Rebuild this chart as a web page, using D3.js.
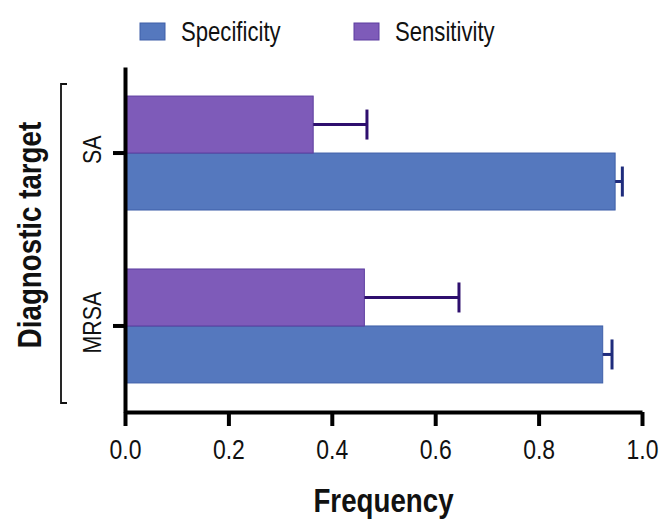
<!DOCTYPE html>
<html>
<head>
<meta charset="utf-8">
<script src="https://cdn.jsdelivr.net/npm/d3@7"></script>
<style>
  body { margin: 0; background: #fff; }
  text { font-family: "Liberation Sans", Arial, sans-serif; fill: #111; }
</style>
</head>
<body>
<div id="chart"></div>
<script>
// Data
const targets = ["SA", "MRSA"];
const seriesNames = ["Specificity", "Sensitivity"];
const specificity = [0.948, 0.924];
const specificityErr = [0.014, 0.018];
const sensitivity = [0.364, 0.463];
const sensitivityErr = [0.104, 0.183];
const xTicks = [0, 0.2, 0.4, 0.6, 0.8, 1.0];

let width = 660, height = 524;

let margin = {
    top: 67,
    bottom: 112,
    left: 125,
    right: 18
}

// the original uses a condensed face, so squeeze the text horizontally
const squeeze = 0.82;

const colors = {
    Specificity: { fill: "#5578be", stroke: "#3e5fa8", err: "#1f2c7c" },
    Sensitivity: { fill: "#7e5bb9", stroke: "#5c3d9f", err: "#2e0f6e" }
};

let svg = d3.select('#chart')
    .append('svg')
    .attr('width', width)
    .attr('height', height)

// Scales
const xScale = d3.scaleLinear()
    .domain([0, 1])
    .range([margin.left, width - margin.right]);

const yScale = d3.scaleBand()
    .domain(targets)
    .range([margin.top, height - margin.bottom])
    .paddingInner(0.341)
    .paddingOuter(0.168);

// purple (Sensitivity) sits on top within each group
const y1 = d3.scaleBand()
    .domain(["Sensitivity", "Specificity"])
    .range([0, yScale.bandwidth()]);

// Build rows from the arrays
const rows = [];
targets.forEach((t, i) => {
    rows.push({ target: t, series: "Specificity", value: specificity[i], err: specificityErr[i] });
    rows.push({ target: t, series: "Sensitivity", value: sensitivity[i], err: sensitivityErr[i] });
});

// Bars
svg.selectAll('.bar')
    .data(rows)
    .enter()
    .append('rect')
    .attr('class', 'bar')
    .attr('x', xScale(0))
    .attr('y', d => yScale(d.target) + y1(d.series))
    .attr('width', d => xScale(d.value) - xScale(0))
    .attr('height', y1.bandwidth())
    .attr('fill', d => colors[d.series].fill)
    .attr('stroke', d => colors[d.series].stroke)
    .attr('stroke-width', 1);

// Error bars (upper side only)
rows.forEach(d => {
    const cy = yScale(d.target) + y1(d.series) + y1.bandwidth() / 2;
    const x0 = xScale(d.value);
    const x1 = xScale(d.value + d.err);
    svg.append('line')
        .attr('x1', x0).attr('x2', x1)
        .attr('y1', cy).attr('y2', cy)
        .attr('stroke', colors[d.series].err)
        .attr('stroke-width', 3);
    svg.append('line')
        .attr('x1', x1).attr('x2', x1)
        .attr('y1', cy - 15).attr('y2', cy + 15)
        .attr('stroke', colors[d.series].err)
        .attr('stroke-width', 3);
});

// X axis
let xaxis = svg.append('g')
    .attr('transform', `translate(0,${height - margin.bottom})`)
    .call(d3.axisBottom(xScale).tickValues(xTicks).tickFormat(d3.format('.1f')).tickSize(14).tickSizeOuter(0));
xaxis.select('.domain').attr('stroke', '#000').attr('stroke-width', 4);
xaxis.selectAll('.tick line').attr('stroke', '#000').attr('stroke-width', 4);
xaxis.selectAll('.tick text')
    .attr('y', 27)
    .attr('transform', `scale(${squeeze},1)`)
    .style('font-size', '28px')
    .style('font-family', '"Liberation Sans", Arial, sans-serif')
    .attr('fill', '#111');

// Y axis
let yaxis = svg.append('g')
    .attr('transform', `translate(${margin.left},0)`)
    .call(d3.axisLeft(yScale).tickSize(12).tickSizeOuter(0));
yaxis.select('.domain').attr('stroke', '#000').attr('stroke-width', 4);
yaxis.selectAll('.tick line').attr('stroke', '#000').attr('stroke-width', 4);
yaxis.selectAll('.tick text')
    .attr('transform', `rotate(-90) scale(${squeeze},1)`)
    .attr('x', 4)
    .attr('y', -24)
    .attr('dy', 0)
    .attr('text-anchor', 'middle')
    .style('font-size', '26px')
    .style('font-family', '"Liberation Sans", Arial, sans-serif')
    .attr('fill', '#111');

// Bracket grouping the targets
const bx = 61, bTop = 84, bBot = 403;
svg.append('path')
    .attr('d', `M${bx + 6},${bTop} H${bx} V${bBot} H${bx + 6}`)
    .attr('fill', 'none')
    .attr('stroke', '#111')
    .attr('stroke-width', 1.8);

// X-axis label
svg.append('text')
    .attr('transform', `translate(${(xScale(0) + xScale(1)) / 2},512) scale(0.84,1)`)
    .attr('text-anchor', 'middle')
    .style('font-size', '33px')
    .style('font-weight', 'bold')
    .text('Frequency');

// Y-axis label
svg.append('text')
    .attr('transform', `translate(41,235) rotate(-90) scale(0.84,1)`)
    .attr('text-anchor', 'middle')
    .style('font-size', '33px')
    .style('font-weight', 'bold')
    .text('Diagnostic target');

// Legend
const legendX = [140, 354];
seriesNames.forEach((s, i) => {
    svg.append('rect')
        .attr('x', legendX[i])
        .attr('y', 23)
        .attr('width', 25)
        .attr('height', 17)
        .attr('fill', colors[s].fill)
        .attr('stroke', colors[s].stroke)
        .attr('stroke-width', 1);
    svg.append('text')
        .attr('transform', `translate(${legendX[i] + 41},41) scale(${squeeze},1)`)
        .style('font-size', '27px')
        .text(s);
});
</script>
</body>
</html>
